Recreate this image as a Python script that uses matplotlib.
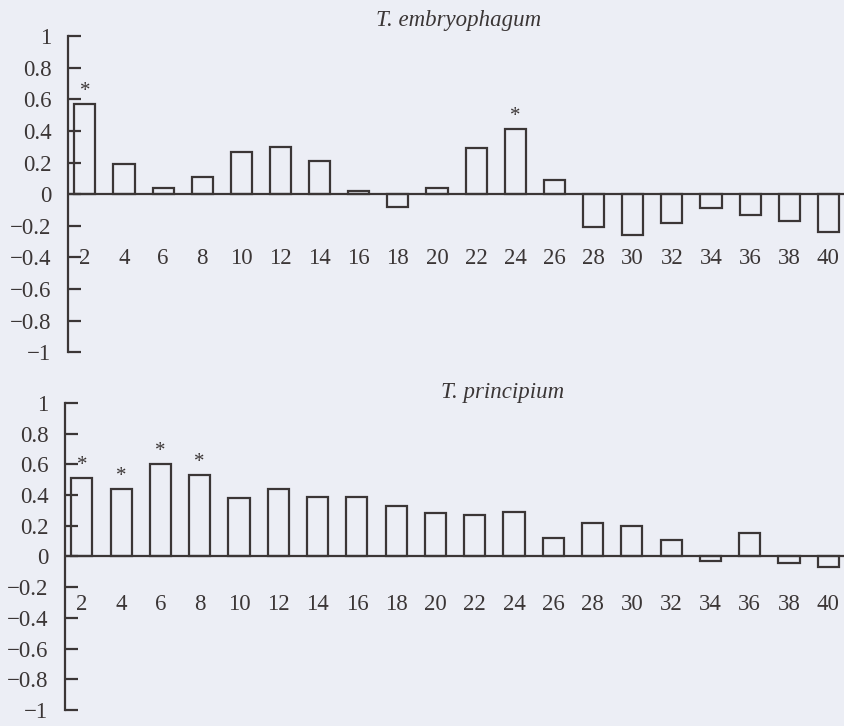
import matplotlib
matplotlib.use("Agg")
import matplotlib.pyplot as plt
import numpy as np
from matplotlib.ticker import FuncFormatter

# data
days = [2, 4, 6, 8, 10, 12, 14, 16, 18, 20, 22, 24, 26, 28, 30, 32, 34, 36, 38, 40]
embryophagum = [0.57, 0.19, 0.04, 0.11, 0.27, 0.30, 0.21, 0.02, -0.08, 0.04,
                0.29, 0.41, 0.09, -0.21, -0.26, -0.18, -0.09, -0.13, -0.17, -0.24]
principium = [0.51, 0.44, 0.60, 0.53, 0.38, 0.44, 0.39, 0.39, 0.33, 0.28,
              0.27, 0.29, 0.12, 0.22, 0.20, 0.11, -0.03, 0.15, -0.04, -0.07]
star_embryophagum = [2, 24]
star_principium = [2, 4, 6, 8]
yticks = [1, 0.8, 0.6, 0.4, 0.2, 0, -0.2, -0.4, -0.6, -0.8, -1]

BG = "#eceef5"
INK = "#3b3636"
plt.rcParams["font.family"] = ["Liberation Serif", "DejaVu Serif"]


def fmt(v, _):
    return f"{v:g}".replace("-", "\u2212")


def panel(ax, values, stars, title, label_y, title_x, title_y):
    x = np.arange(len(days))
    ax.set_facecolor(BG)
    ax.bar(x, values, width=0.54, facecolor="none", edgecolor=INK, linewidth=1.6)
    ax.axhline(0, color=INK, linewidth=1.6)
    for d in stars:
        i = days.index(d)
        ax.text(i, values[i] + 0.02, "*", ha="center", va="bottom",
                fontsize=15, color=INK)
    for i, d in enumerate(days):
        ax.text(i, label_y, str(d), ha="center", va="center", fontsize=16.5, color=INK)
    ax.set_xlim(-0.43, len(days) - 0.6)
    ax.set_ylim(-1, 1)
    ax.set_yticks(yticks)
    ax.yaxis.set_major_formatter(FuncFormatter(fmt))
    ax.tick_params(axis="y", direction="in", length=9, width=1.6, colors=INK,
                   labelsize=16.5, pad=12)
    ax.set_xticks([])
    for s in ("top", "right", "bottom"):
        ax.spines[s].set_visible(False)
    ax.spines["left"].set_linewidth(1.6)
    ax.spines["left"].set_color(INK)
    ax.text(title_x, title_y, title, transform=ax.transAxes, ha="center",
            va="center", fontsize=16.5, style="italic", color=INK)


fig = plt.figure(figsize=(8.44, 7.26), dpi=100, facecolor=BG)
ax1 = fig.add_axes([0.0806, 0.515, 0.9194, 0.435])
ax2 = fig.add_axes([0.0770, 0.022, 0.9230, 0.423])

panel(ax1, embryophagum, star_embryophagum, "T. embryophagum", -0.41, 0.503, 1.05)
panel(ax2, principium, star_principium, "T. principium", -0.31, 0.562, 1.035)

fig.savefig("out.png", dpi=100, facecolor=BG)
